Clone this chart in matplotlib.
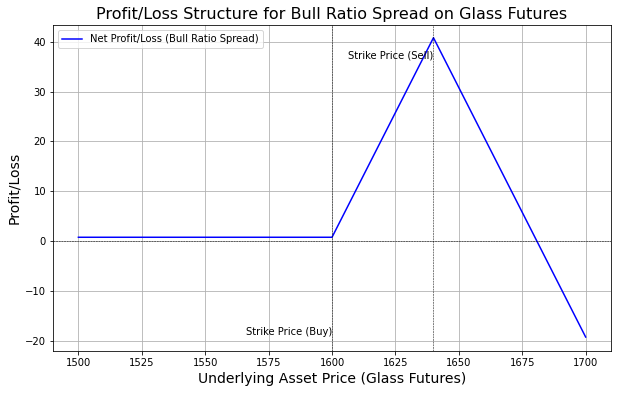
import matplotlib
matplotlib.use("Agg")
import matplotlib.pyplot as plt

prices = [1500, 1600, 1640, 1700]
pnl = [0.8, 0.8, 40.8, -19.2]
strike_buy = 1600
strike_sell = 1640
xticks = [1500, 1525, 1550, 1575, 1600, 1625, 1650, 1675, 1700]

fig, ax = plt.subplots(figsize=(618/72, 393/72), dpi=72)
fig.subplots_adjust(left=0.0858, right=0.9887, top=1-25/393, bottom=1-351/393)
ax.plot(prices, pnl, color='blue', label='Net Profit/Loss (Bull Ratio Spread)')
ax.axhline(0, color='black', linewidth=0.5, linestyle='--')
ax.axvline(strike_buy, color='black', linewidth=0.5, linestyle='--')
ax.axvline(strike_sell, color='black', linewidth=0.5, linestyle='--')
ax.text(strike_buy, -18.2, 'Strike Price (Buy)', ha='right', va='center', fontsize=10)
ax.text(strike_sell, 37.3, 'Strike Price (Sell)', ha='right', va='center', fontsize=10)
ax.set_xticks(xticks)
ax.set_ylim(-22.0, 43.35)
ax.set_title('Profit/Loss Structure for Bull Ratio Spread on Glass Futures', fontsize=16)
ax.set_xlabel('Underlying Asset Price (Glass Futures)', fontsize=14)
ax.set_ylabel('Profit/Loss', fontsize=14)
ax.grid(True)
ax.legend(loc='upper left')
fig.savefig('out.png', dpi=72)
